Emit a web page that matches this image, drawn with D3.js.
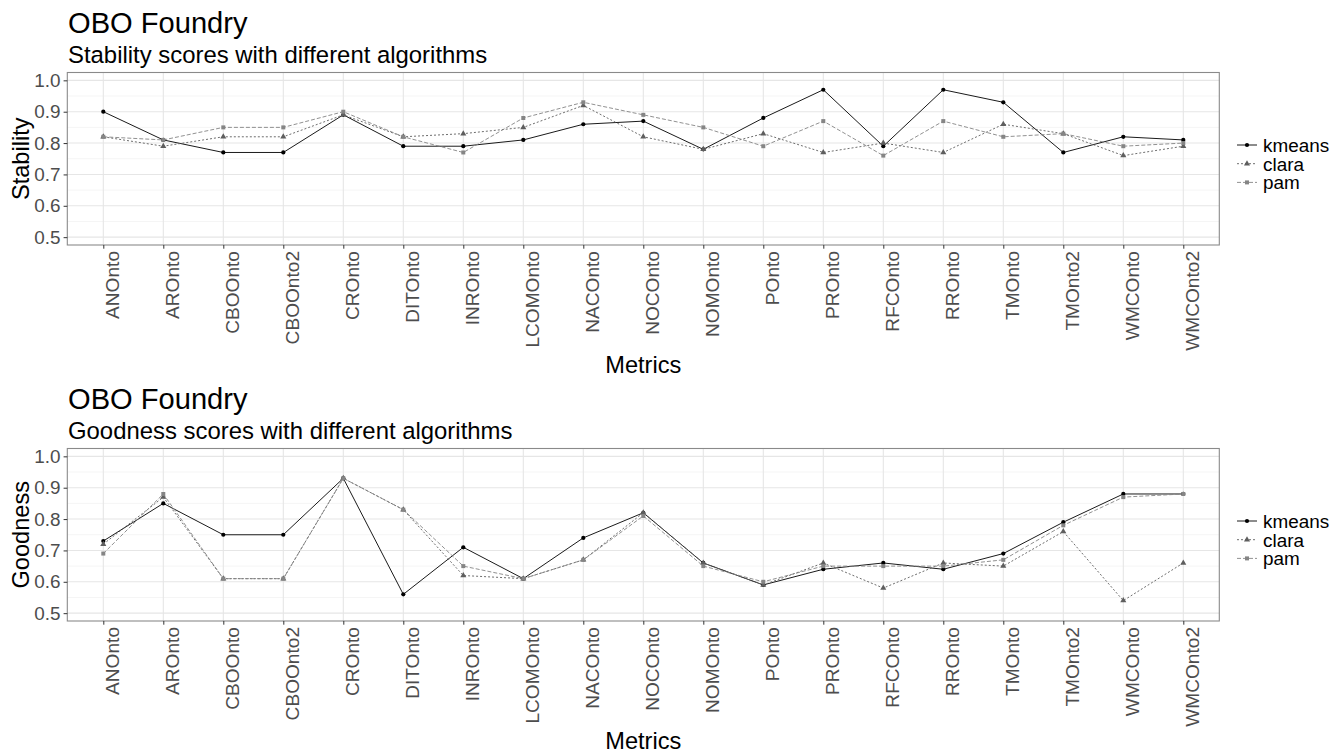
<!DOCTYPE html>
<html>
<head>
<meta charset="utf-8">
<script src="https://cdn.jsdelivr.net/npm/d3@7"></script>
<style>
  html, body { margin: 0; padding: 0; background: #fff; }
  svg { display: block; font-family: "Liberation Sans", Arial, sans-serif; }
</style>
</head>
<body>
<svg id="chart" width="1335" height="752"></svg>
<script>
// Ontology metrics on the x axis
const categories = ["ANOnto", "AROnto", "CBOOnto", "CBOOnto2", "CROnto", "DITOnto", "INROnto",
  "LCOMOnto", "NACOnto", "NOCOnto", "NOMOnto", "POnto", "PROnto", "RFCOnto", "RROnto",
  "TMOnto", "TMOnto2", "WMCOnto", "WMCOnto2"];

const algorithms = ["kmeans", "clara", "pam"];

// Stability scores
const stabilityKmeans = [0.90, 0.81, 0.77, 0.77, 0.89, 0.79, 0.79, 0.81, 0.86, 0.87, 0.78, 0.88, 0.97, 0.79, 0.97, 0.93, 0.77, 0.82, 0.81];
const stabilityClara  = [0.82, 0.79, 0.82, 0.82, 0.89, 0.82, 0.83, 0.85, 0.92, 0.82, 0.78, 0.83, 0.77, 0.80, 0.77, 0.86, 0.83, 0.76, 0.79];
const stabilityPam    = [0.82, 0.81, 0.85, 0.85, 0.90, 0.82, 0.77, 0.88, 0.93, 0.89, 0.85, 0.79, 0.87, 0.76, 0.87, 0.82, 0.83, 0.79, 0.80];

// Goodness scores
const goodnessKmeans = [0.73, 0.85, 0.75, 0.75, 0.93, 0.56, 0.71, 0.61, 0.74, 0.82, 0.66, 0.59, 0.64, 0.66, 0.64, 0.69, 0.79, 0.88, 0.88];
const goodnessClara  = [0.72, 0.87, 0.61, 0.61, 0.93, 0.83, 0.62, 0.61, 0.67, 0.82, 0.66, 0.59, 0.66, 0.58, 0.66, 0.65, 0.76, 0.54, 0.66];
const goodnessPam    = [0.69, 0.88, 0.61, 0.61, 0.93, 0.83, 0.65, 0.61, 0.67, 0.81, 0.65, 0.60, 0.65, 0.65, 0.65, 0.67, 0.78, 0.87, 0.88];

const yTicks = [0.5, 0.6, 0.7, 0.8, 0.9, 1.0];
const yMinor = [0.55, 0.65, 0.75, 0.85, 0.95];

// Visual encoding per algorithm
const styles = {
  kmeans: { color: "#000000", dash: null,  symbol: d3.symbolCircle,   size: 14 },
  clara:  { color: "#5e5e5e", dash: "2,2", symbol: d3.symbolTriangle, size: 16 },
  pam:    { color: "#858585", dash: "4,2", symbol: d3.symbolSquare,   size: 16 }
};

const svg = d3.select("#chart");
svg.append("rect").attr("width", 1335).attr("height", 752).attr("fill", "#fff");

const panelLeft = 67.3, panelRight = 1219.3, panelHeight = 172.5;

function drawPanel(top, title, subtitle, yTitle, seriesValues) {
  const g = svg.append("g");
  const bottom = top + panelHeight;

  const x = d3.scalePoint().domain(categories)
    .range([panelLeft, panelRight]).padding(0.6);
  const y = d3.scaleLinear().domain([0.475, 1.025]).range([bottom, top]);

  // titles
  g.append("text").attr("x", 68).attr("y", top - 39.2)
    .attr("font-size", 29.1).attr("fill", "#000").text(title);
  g.append("text").attr("x", 68).attr("y", top - 9.8)
    .attr("font-size", 23.9).attr("fill", "#000").text(subtitle);

  // grid: minor then major
  const grid = g.append("g");
  grid.selectAll(".ymin").data(yMinor).join("line")
    .attr("x1", panelLeft).attr("x2", panelRight)
    .attr("y1", d => y(d)).attr("y2", d => y(d))
    .attr("stroke", "#f2f2f2").attr("stroke-width", 0.8);
  grid.selectAll(".ymaj").data(yTicks).join("line")
    .attr("x1", panelLeft).attr("x2", panelRight)
    .attr("y1", d => y(d)).attr("y2", d => y(d))
    .attr("stroke", "#e6e6e6").attr("stroke-width", 1.1);
  grid.selectAll(".xmaj").data(categories).join("line")
    .attr("x1", d => x(d)).attr("x2", d => x(d))
    .attr("y1", top).attr("y2", bottom)
    .attr("stroke", "#e6e6e6").attr("stroke-width", 1.1);

  // series
  const line = d3.line().x(d => x(d.cat)).y(d => y(d.v));
  algorithms.forEach((alg, i) => {
    const s = styles[alg];
    const pts = categories.map((c, j) => ({ cat: c, v: seriesValues[i][j] }));
    g.append("path").datum(pts).attr("d", line)
      .attr("fill", "none").attr("stroke", s.color).attr("stroke-width", 0.9)
      .attr("stroke-dasharray", s.dash);
    g.selectAll(null).data(pts).join("path")
      .attr("transform", d => `translate(${x(d.cat)},${y(d.v)})`)
      .attr("d", d3.symbol().type(s.symbol).size(s.size))
      .attr("fill", s.color);
  });

  // panel border
  g.append("rect").attr("x", panelLeft).attr("y", top)
    .attr("width", panelRight - panelLeft).attr("height", panelHeight)
    .attr("fill", "none").attr("stroke", "#8a8a8a").attr("stroke-width", 1.1);

  // y axis
  const yAxis = g.append("g").attr("transform", `translate(${panelLeft},0)`)
    .call(d3.axisLeft(y).tickValues(yTicks).tickFormat(d3.format(".1f")).tickSize(3.7).tickPadding(3));
  yAxis.select(".domain").remove();
  yAxis.selectAll(".tick line").attr("stroke", "#333");
  yAxis.selectAll(".tick text").attr("font-size", 18.9).attr("fill", "#4d4d4d")
    .attr("font-family", "Liberation Sans, Arial, sans-serif");

  // x axis, labels rotated
  const xAxis = g.append("g").attr("transform", `translate(0,${bottom})`)
    .call(d3.axisBottom(x).tickSize(3.7).tickPadding(0));
  xAxis.select(".domain").remove();
  xAxis.selectAll(".tick line").attr("stroke", "#333");
  xAxis.selectAll(".tick text")
    .attr("font-size", 19.1).attr("fill", "#4d4d4d")
    .attr("font-family", "Liberation Sans, Arial, sans-serif")
    .attr("text-anchor", "end")
    .attr("dy", null)
    .attr("y", 0)
    .attr("transform", "translate(15.5,6) rotate(-90)");

  // axis titles
  g.append("text").attr("x", (panelLeft + panelRight) / 2).attr("y", bottom + 127.5)
    .attr("text-anchor", "middle").attr("font-size", 23.6).attr("fill", "#000").text("Metrics");
  g.append("text")
    .attr("transform", `translate(28.5,${top + panelHeight / 2}) rotate(-90)`)
    .attr("text-anchor", "middle").attr("font-size", 23.6).attr("fill", "#000").text(yTitle);

  // legend
  const lg = g.append("g");
  algorithms.forEach((alg, i) => {
    const s = styles[alg];
    const cy = top + 72.5 + i * 18.7;
    lg.append("line").attr("x1", 1237).attr("x2", 1257).attr("y1", cy).attr("y2", cy)
      .attr("stroke", s.color).attr("stroke-width", 0.9).attr("stroke-dasharray", s.dash);
    lg.append("path").attr("transform", `translate(1247,${cy})`)
      .attr("d", d3.symbol().type(s.symbol).size(s.size)).attr("fill", s.color);
    lg.append("text").attr("x", 1263).attr("y", cy + 6.8)
      .attr("font-size", 18.9).attr("fill", "#000").text(alg);
  });
}

drawPanel(72.5, "OBO Foundry", "Stability scores with different algorithms", "Stability",
  [stabilityKmeans, stabilityClara, stabilityPam]);
drawPanel(448.5, "OBO Foundry", "Goodness scores with different algorithms", "Goodness",
  [goodnessKmeans, goodnessClara, goodnessPam]);
</script>
</body>
</html>
